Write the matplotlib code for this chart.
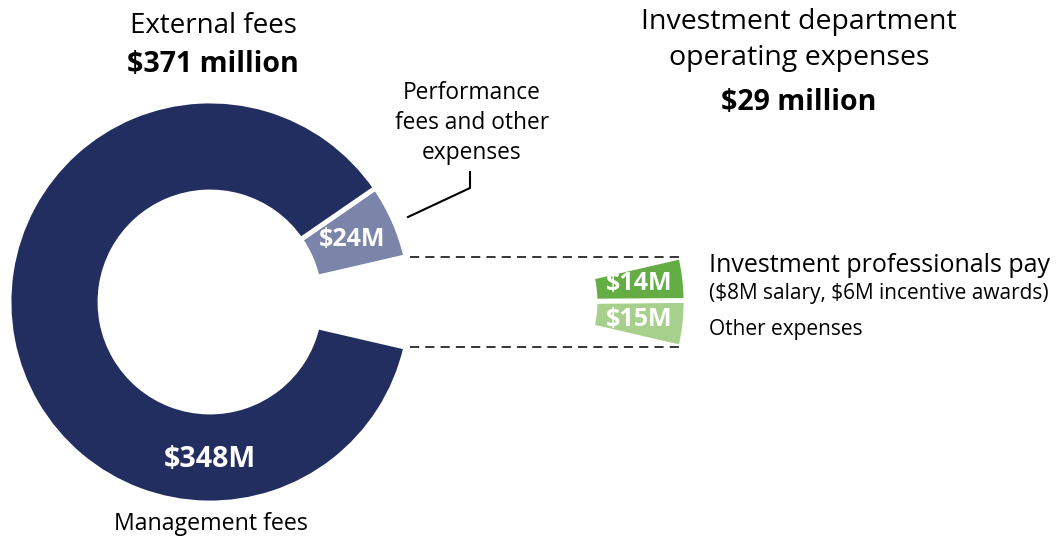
import numpy as np
import matplotlib
matplotlib.use("Agg")
import matplotlib.pyplot as plt

# ---- data ----
external_labels = ["Performance fees and other expenses", "Management fees"]
external_values = [24, 348]            # $M (total reported $371M)
external_total_label = "$371 million"
dept_labels = ["Other expenses", "Investment professionals pay"]
dept_values = [15, 14]                 # $M
dept_total_label = "$29 million"

# ---- style ----
NAVY = "#222E5F"
SLATE = "#7B84A9"
DARK_GREEN = "#64AD45"
LIGHT_GREEN = "#A8D08D"
FONT = ["Open Sans", "DejaVu Sans"]
plt.rcParams["font.family"] = FONT
plt.rcParams["text.parse_math"] = False

W, H = 1057, 542
fig = plt.figure(figsize=(W / 100, H / 100), dpi=100)
ax = fig.add_axes([0, 0, 1, 1])

R_OUT, R_W = 201, 91
cx, cy = 210, H - 302
shift = 275

dept_total = sum(dept_values)
grand = dept_total + sum(external_values)
start = -dept_total / grand * 180.0

# main donut (first wedge = removed department slice)
w_main, _ = ax.pie([dept_total] + external_values, startangle=start, counterclock=True,
                   radius=R_OUT, center=(cx, cy),
                   colors=["none", SLATE, NAVY],
                   wedgeprops=dict(width=R_W, edgecolor="white", linewidth=3.5))
w_main[0].set_visible(False)

# detached department slice
w_dept, _ = ax.pie(dept_values + external_values, startangle=start, counterclock=True,
                   radius=R_OUT, center=(cx + shift, cy),
                   colors=[LIGHT_GREEN, DARK_GREEN, "none", "none"],
                   wedgeprops=dict(width=R_W, edgecolor="white", linewidth=3.5))
for w in w_dept[2:]:
    w.set_visible(False)

ax.set_xlim(0, W)
ax.set_ylim(0, H)
ax.set_aspect("equal")
ax.axis("off")

r_mid = R_OUT - R_W / 2

def polar(c, ang, r):
    a = np.deg2rad(ang)
    return c[0] + r * np.cos(a), c[1] + r * np.sin(a)

# wedge value labels
for w, v in zip(w_main[1:2], external_values[:1]):
    x, y = polar((cx, cy), (w.theta1 + w.theta2) / 2, r_mid)
    ax.text(x, y, f"${v}M", color="white", fontsize=18, fontweight="bold",
            ha="center", va="center")
x, y = polar((cx, cy), 270, r_mid + 2)
ax.text(x, y, f"${external_values[1]}M", color="white", fontsize=20.5, fontweight="bold",
        ha="center", va="center")
for w, v in zip(w_dept[:2], dept_values):
    x, y = polar((cx + shift, cy), (w.theta1 + w.theta2) / 2, r_mid)
    ax.text(x, y, f"${v}M", color="white", fontsize=18, fontweight="bold",
            ha="center", va="center")

# dashed connector lines
for ang in (w_main[0].theta1, w_main[0].theta2):
    x0, y0 = polar((cx, cy), ang, R_OUT)
    ax.plot([x0 + 4, cx + shift + R_OUT * np.cos(np.deg2rad(ang)) + 1], [y0, y0],
            color="black", lw=1.1, ls=(0, (6, 4)))

# titles
ax.text(213, H - 26, "External fees", fontsize=20, ha="center", va="center")
ax.text(213, H - 64, external_total_label, fontsize=20.5, fontweight="bold",
        ha="center", va="center")
ax.text(799, H - 22, "Investment department", fontsize=20.5, ha="center", va="center")
ax.text(799, H - 58, "operating expenses", fontsize=20.5, ha="center", va="center")
ax.text(799, H - 103, dept_total_label, fontsize=20.5, fontweight="bold",
        ha="center", va="center")

# category labels
ax.text(472, H - 123, "Performance\nfees and other\nexpenses", fontsize=16.4,
        ha="center", va="center", linespacing=1.32)
ax.plot([408, 470, 470], [H - 217, H - 188, H - 172], color="black", lw=1.5)
ax.text(211, H - 524, "Management fees", fontsize=16.7, ha="center", va="center")
ax.text(709, H - 265, "Investment professionals pay", fontsize=18, ha="left", va="center")
ax.text(709, H - 293, "($8M salary, $6M incentive awards)", fontsize=15, ha="left", va="center")
ax.text(709, H - 330, "Other expenses", fontsize=15, ha="left", va="center")

fig.savefig("out.png", dpi=100, facecolor="white")
